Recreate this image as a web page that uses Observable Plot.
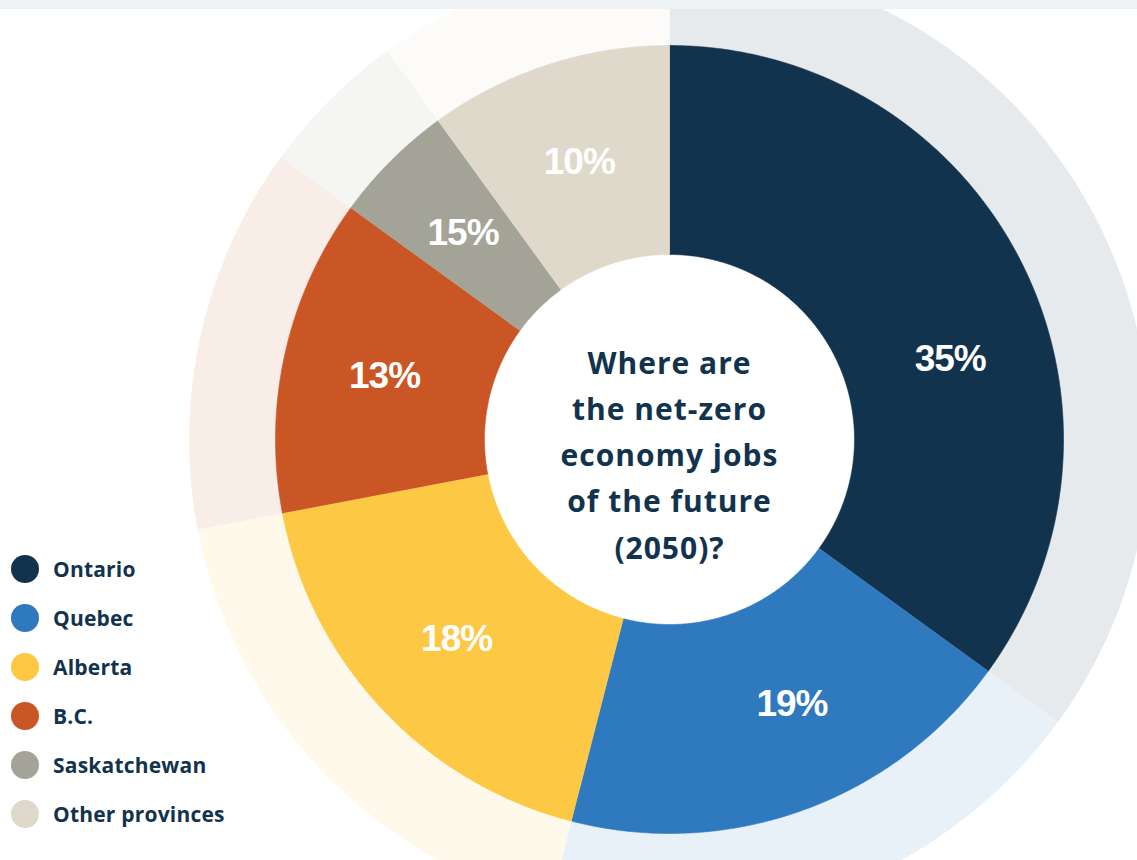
<!DOCTYPE html>
<html>
<head>
<meta charset="utf-8">
<script src="https://cdn.jsdelivr.net/npm/d3@7"></script>
<script src="https://cdn.jsdelivr.net/npm/@observablehq/plot@0.6"></script>
<style>
  html, body { margin: 0; padding: 0; background: #ffffff; }
  #wrap { position: relative; width: 1137px; height: 860px; overflow: hidden; background: #fff; }
  #topbar { height: 9px; background: #eef2f5; }
  #chart svg { display: block; }
  #legend { position: absolute; left: 11px; top: 544px; font-family: "Open Sans", sans-serif; font-weight: 700; font-size: 21px; letter-spacing: 0.2px; color: #12334d; }
  #legend .row { display: flex; align-items: center; height: 49px; }
  #legend .sw { width: 28px; height: 28px; border-radius: 50%; margin-right: 14px; flex: none; }
</style>
</head>
<body>
<div id="wrap">
  <div id="topbar"></div>
  <div id="chart"></div>
  <div id="legend"></div>
</div>
<script>
// ---- Data ----
const provinces = ["Ontario", "Quebec", "Alberta", "B.C.", "Saskatchewan", "Other provinces"];
const shares = [35, 19, 18, 13, 5, 10];                 // slice sizes as drawn
const shareLabels = ["35%", "19%", "18%", "13%", "15%", "10%"]; // labels as printed
const colors = ["#11334d", "#2f7abf", "#fdc844", "#ca5525", "#a4a397", "#dfd9cc"];
const centerTitle = ["Where are", "the net-zero", "economy jobs", "of the future", "(2050)?"];

// ---- Layout ----
const W = 1137, H = 851;
const CX = 669, CY = 430;          // donut centre in SVG pixels
const R_HOLE = 185, R_IN = 394, R_OUT = 480, R_LABEL = 292;
const TINT = 0.105;                 // outer halo ring tint strength
const LABEL_NUDGE_DEG = {"Ontario": 11, "Quebec": -5}; // label placement as in the original

const pie = d3.pie().sort(null).value(d => d)(shares);
const tint = c => d3.interpolateRgb("#ffffff", c)(TINT);

function ringPoints(key, color, a0, a1, r0, r1) {
  const pts = [];
  const n = Math.max(2, Math.ceil((a1 - a0) / (Math.PI / 360)));
  for (let i = 0; i <= n; i++) {
    const a = a0 + (a1 - a0) * i / n;
    pts.push({key, color, x: r1 * Math.sin(a), y: r1 * Math.cos(a)});
  }
  for (let i = n; i >= 0; i--) {
    const a = a0 + (a1 - a0) * i / n;
    pts.push({key, color, x: r0 * Math.sin(a), y: r0 * Math.cos(a)});
  }
  return pts;
}

const halo = pie.flatMap((p, i) => ringPoints("halo" + i, tint(colors[i]), p.startAngle, p.endAngle, R_IN, R_OUT));
const donut = pie.flatMap((p, i) => ringPoints("slice" + i, colors[i], p.startAngle, p.endAngle, R_HOLE, R_IN));
const labelData = pie.map((p, i) => {
  const a = (p.startAngle + p.endAngle) / 2 + (LABEL_NUDGE_DEG[provinces[i]] || 0) * Math.PI / 180;
  return {label: shareLabels[i], x: R_LABEL * Math.sin(a), y: R_LABEL * Math.cos(a)};
});

const chart = Plot.plot({
  width: W,
  height: H,
  margin: 0,
  x: {domain: [-CX, W - CX], axis: null},
  y: {domain: [-(H - CY), CY], axis: null},
  color: {type: "identity"},
  marks: [
    Plot.line(halo, {x: "x", y: "y", z: "key", fill: "color", stroke: "color", strokeWidth: 0.6, curve: "linear"}),
    Plot.line(donut, {x: "x", y: "y", z: "key", fill: "color", stroke: "color", strokeWidth: 0.6, curve: "linear"}),
    Plot.text(labelData, {x: "x", y: "y", text: "label", fill: "#ffffff", fontSize: 37, fontWeight: 700,
      fontFamily: "Liberation Sans, Arial, sans-serif"}),
    Plot.text([{x: 0, y: 0, t: centerTitle.join("\n")}], {x: "x", y: "y", text: "t", fill: "#12334d",
      fontSize: 30, fontWeight: 700, fontFamily: "Open Sans, sans-serif", lineHeight: 1.54, dy: 12})
  ]
});

d3.select(chart).selectAll("g[font-size='37']").style("letter-spacing", "-1px");
d3.select(chart).selectAll("g[font-size='30']").style("letter-spacing", "1px");

document.getElementById("chart").appendChild(chart);

const legend = d3.select("#legend");
provinces.forEach((name, i) => {
  const row = legend.append("div").attr("class", "row");
  row.append("div").attr("class", "sw").style("background", colors[i]);
  row.append("span").text(name);
});
</script>
</body>
</html>
